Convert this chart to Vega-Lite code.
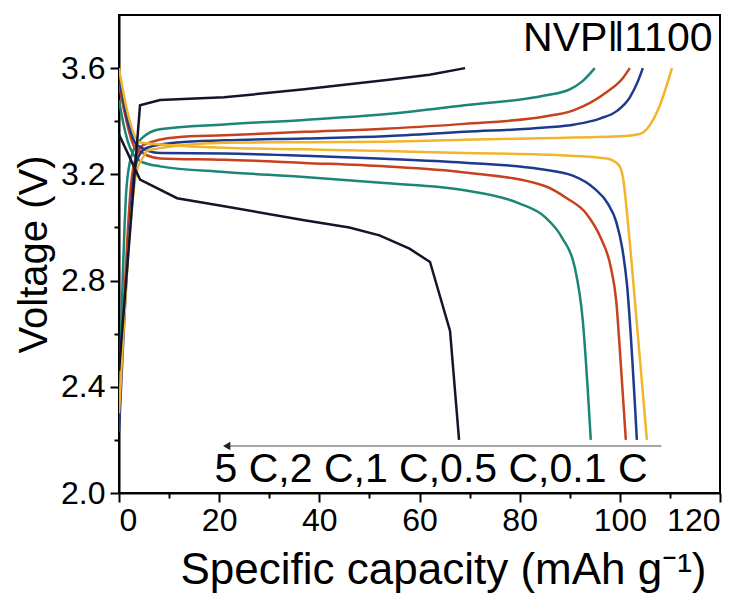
{
  "$schema": "https://vega.github.io/schema/vega-lite/v6.json",
  "width": 601,
  "height": 478,
  "autosize": {"type": "none"},
  "padding": {"left": 119, "top": 15, "right": 27, "bottom": 117},
  "background": "white",
  "config": {
    "view": {"stroke": "black", "strokeWidth": 2},
    "font": "Liberation Sans",
    "axis": {
      "domainColor": "black", "domainWidth": 2, "tickColor": "black", "tickWidth": 2,
      "labelFont": "Liberation Sans", "labelFontSize": 32, "labelColor": "black",
      "titleFont": "Liberation Sans", "titleFontSize": 40, "titleFontWeight": "normal", "titleColor": "black",
      "grid": false
    }
  },
  "datasets": {
    "curves": [
      {"r": "5 C", "k": "c", "x": 0, "v": 2.46}, {"r": "5 C", "k": "c", "x": 4.2, "v": 3.46}, {"r": "5 C", "k": "c", "x": 8.2, "v": 3.48}, {"r": "5 C", "k": "c", "x": 21, "v": 3.49}, {"r": "5 C", "k": "c", "x": 37, "v": 3.52}, {"r": "5 C", "k": "c", "x": 53, "v": 3.554}, {"r": "5 C", "k": "c", "x": 62, "v": 3.575}, {"r": "5 C", "k": "c", "x": 69.1, "v": 3.6},
      {"r": "5 C", "k": "d", "x": 0, "v": 3.35}, {"r": "5 C", "k": "d", "x": 4.2, "v": 3.18}, {"r": "5 C", "k": "d", "x": 11.6, "v": 3.11}, {"r": "5 C", "k": "d", "x": 21, "v": 3.08}, {"r": "5 C", "k": "d", "x": 37, "v": 3.027}, {"r": "5 C", "k": "d", "x": 46, "v": 3.0}, {"r": "5 C", "k": "d", "x": 52, "v": 2.97}, {"r": "5 C", "k": "d", "x": 58, "v": 2.92}, {"r": "5 C", "k": "d", "x": 62.1, "v": 2.87}, {"r": "5 C", "k": "d", "x": 66.1, "v": 2.61}, {"r": "5 C", "k": "d", "x": 67.9, "v": 2.2},

      {"r": "2 C", "k": "c", "x": 0, "v": 2.31}, {"r": "2 C", "k": "c", "x": 1.5, "v": 3.15}, {"r": "2 C", "k": "c", "x": 2.5, "v": 3.27}, {"r": "2 C", "k": "c", "x": 4.8, "v": 3.34}, {"r": "2 C", "k": "c", "x": 8.2, "v": 3.37}, {"r": "2 C", "k": "c", "x": 21, "v": 3.388}, {"r": "2 C", "k": "c", "x": 37, "v": 3.405}, {"r": "2 C", "k": "c", "x": 53, "v": 3.426}, {"r": "2 C", "k": "c", "x": 69, "v": 3.46}, {"r": "2 C", "k": "c", "x": 85, "v": 3.497}, {"r": "2 C", "k": "c", "x": 90, "v": 3.52}, {"r": "2 C", "k": "c", "x": 92.5, "v": 3.55}, {"r": "2 C", "k": "c", "x": 95, "v": 3.6},
      {"r": "2 C", "k": "d", "x": 0, "v": 3.48}, {"r": "2 C", "k": "d", "x": 1, "v": 3.38}, {"r": "2 C", "k": "d", "x": 2, "v": 3.31}, {"r": "2 C", "k": "d", "x": 4.2, "v": 3.25}, {"r": "2 C", "k": "d", "x": 8.2, "v": 3.23}, {"r": "2 C", "k": "d", "x": 21, "v": 3.209}, {"r": "2 C", "k": "d", "x": 37, "v": 3.19}, {"r": "2 C", "k": "d", "x": 53, "v": 3.167}, {"r": "2 C", "k": "d", "x": 69, "v": 3.14}, {"r": "2 C", "k": "d", "x": 80, "v": 3.09}, {"r": "2 C", "k": "d", "x": 85, "v": 3.04}, {"r": "2 C", "k": "d", "x": 88.5, "v": 2.96}, {"r": "2 C", "k": "d", "x": 91, "v": 2.85}, {"r": "2 C", "k": "d", "x": 92.6, "v": 2.65}, {"r": "2 C", "k": "d", "x": 94.2, "v": 2.2},

      {"r": "1 C", "k": "c", "x": 0, "v": 2.26}, {"r": "1 C", "k": "c", "x": 2.5, "v": 3.18}, {"r": "1 C", "k": "c", "x": 3.5, "v": 3.27}, {"r": "1 C", "k": "c", "x": 4.8, "v": 3.31}, {"r": "1 C", "k": "c", "x": 11.6, "v": 3.34}, {"r": "1 C", "k": "c", "x": 21, "v": 3.347}, {"r": "1 C", "k": "c", "x": 37, "v": 3.36}, {"r": "1 C", "k": "c", "x": 53, "v": 3.372}, {"r": "1 C", "k": "c", "x": 69, "v": 3.39}, {"r": "1 C", "k": "c", "x": 85, "v": 3.418}, {"r": "1 C", "k": "c", "x": 90.6, "v": 3.44}, {"r": "1 C", "k": "c", "x": 97.4, "v": 3.51}, {"r": "1 C", "k": "c", "x": 100.5, "v": 3.56}, {"r": "1 C", "k": "c", "x": 102, "v": 3.6},
      {"r": "1 C", "k": "d", "x": 0, "v": 3.54}, {"r": "1 C", "k": "d", "x": 1.5, "v": 3.4}, {"r": "1 C", "k": "d", "x": 3.2, "v": 3.3}, {"r": "1 C", "k": "d", "x": 8.2, "v": 3.26}, {"r": "1 C", "k": "d", "x": 21, "v": 3.255}, {"r": "1 C", "k": "d", "x": 37, "v": 3.243}, {"r": "1 C", "k": "d", "x": 53, "v": 3.23}, {"r": "1 C", "k": "d", "x": 69, "v": 3.207}, {"r": "1 C", "k": "d", "x": 85, "v": 3.156}, {"r": "1 C", "k": "d", "x": 89.4, "v": 3.11}, {"r": "1 C", "k": "d", "x": 93.4, "v": 3.05}, {"r": "1 C", "k": "d", "x": 96.2, "v": 2.96}, {"r": "1 C", "k": "d", "x": 98.2, "v": 2.85}, {"r": "1 C", "k": "d", "x": 99.3, "v": 2.72}, {"r": "1 C", "k": "d", "x": 100, "v": 2.54}, {"r": "1 C", "k": "d", "x": 101.2, "v": 2.2},

      {"r": "0.5 C", "k": "c", "x": 0, "v": 2.23}, {"r": "0.5 C", "k": "c", "x": 3, "v": 3.2}, {"r": "0.5 C", "k": "c", "x": 4, "v": 3.27}, {"r": "0.5 C", "k": "c", "x": 5.6, "v": 3.3}, {"r": "0.5 C", "k": "c", "x": 11.6, "v": 3.32}, {"r": "0.5 C", "k": "c", "x": 21, "v": 3.328}, {"r": "0.5 C", "k": "c", "x": 37, "v": 3.335}, {"r": "0.5 C", "k": "c", "x": 53, "v": 3.343}, {"r": "0.5 C", "k": "c", "x": 69, "v": 3.36}, {"r": "0.5 C", "k": "c", "x": 85, "v": 3.376}, {"r": "0.5 C", "k": "c", "x": 91, "v": 3.388}, {"r": "0.5 C", "k": "c", "x": 96, "v": 3.41}, {"r": "0.5 C", "k": "c", "x": 99.5, "v": 3.44}, {"r": "0.5 C", "k": "c", "x": 102, "v": 3.49}, {"r": "0.5 C", "k": "c", "x": 103.6, "v": 3.55}, {"r": "0.5 C", "k": "c", "x": 104.6, "v": 3.6},
      {"r": "0.5 C", "k": "d", "x": 0, "v": 3.57}, {"r": "0.5 C", "k": "d", "x": 1.5, "v": 3.42}, {"r": "0.5 C", "k": "d", "x": 3.6, "v": 3.31}, {"r": "0.5 C", "k": "d", "x": 8.2, "v": 3.28}, {"r": "0.5 C", "k": "d", "x": 21, "v": 3.278}, {"r": "0.5 C", "k": "d", "x": 37, "v": 3.27}, {"r": "0.5 C", "k": "d", "x": 53, "v": 3.259}, {"r": "0.5 C", "k": "d", "x": 69, "v": 3.244}, {"r": "0.5 C", "k": "d", "x": 84, "v": 3.22}, {"r": "0.5 C", "k": "d", "x": 90.6, "v": 3.195}, {"r": "0.5 C", "k": "d", "x": 95, "v": 3.145}, {"r": "0.5 C", "k": "d", "x": 97.6, "v": 3.09}, {"r": "0.5 C", "k": "d", "x": 99.3, "v": 3.02}, {"r": "0.5 C", "k": "d", "x": 100.5, "v": 2.92}, {"r": "0.5 C", "k": "d", "x": 101.4, "v": 2.79}, {"r": "0.5 C", "k": "d", "x": 103.4, "v": 2.2},

      {"r": "0.1 C", "k": "c", "x": 0, "v": 2.3}, {"r": "0.1 C", "k": "c", "x": 3.5, "v": 3.21}, {"r": "0.1 C", "k": "c", "x": 5, "v": 3.27}, {"r": "0.1 C", "k": "c", "x": 5.6, "v": 3.29}, {"r": "0.1 C", "k": "c", "x": 21, "v": 3.319}, {"r": "0.1 C", "k": "c", "x": 37, "v": 3.321}, {"r": "0.1 C", "k": "c", "x": 53, "v": 3.323}, {"r": "0.1 C", "k": "c", "x": 69, "v": 3.33}, {"r": "0.1 C", "k": "c", "x": 84, "v": 3.336}, {"r": "0.1 C", "k": "c", "x": 100, "v": 3.343}, {"r": "0.1 C", "k": "c", "x": 104, "v": 3.352}, {"r": "0.1 C", "k": "c", "x": 105.8, "v": 3.38}, {"r": "0.1 C", "k": "c", "x": 108, "v": 3.46}, {"r": "0.1 C", "k": "c", "x": 110.4, "v": 3.6},
      {"r": "0.1 C", "k": "d", "x": 0, "v": 3.6}, {"r": "0.1 C", "k": "d", "x": 1.5, "v": 3.45}, {"r": "0.1 C", "k": "d", "x": 4.2, "v": 3.32}, {"r": "0.1 C", "k": "d", "x": 21, "v": 3.3}, {"r": "0.1 C", "k": "d", "x": 37, "v": 3.294}, {"r": "0.1 C", "k": "d", "x": 53, "v": 3.288}, {"r": "0.1 C", "k": "d", "x": 69, "v": 3.28}, {"r": "0.1 C", "k": "d", "x": 84, "v": 3.275}, {"r": "0.1 C", "k": "d", "x": 97.4, "v": 3.26}, {"r": "0.1 C", "k": "d", "x": 99.8, "v": 3.235}, {"r": "0.1 C", "k": "d", "x": 100.7, "v": 3.18}, {"r": "0.1 C", "k": "d", "x": 101.3, "v": 3.08}, {"r": "0.1 C", "k": "d", "x": 102.2, "v": 2.9}, {"r": "0.1 C", "k": "d", "x": 105.4, "v": 2.2}
    ],
    "labels": [
      {"t": "NVP‖1100", "x": 118.5, "v": 3.71},
      {"t": "5 C,2 C,1 C,0.5 C,0.1 C", "x": 62.3, "v": 2.085}
    ],
    "arrow": [{"x": 21.5, "x2": 108.3, "v": 2.177}]
  },
  "layer": [
    {
      "data": {"name": "curves"},
      "transform": [{"filter": "datum.r !== '5 C'"}],
      "mark": {"type": "line", "interpolate": "monotone", "strokeWidth": 2.5, "clip": true},
      "encoding": {
        "x": {"field": "x", "type": "quantitative", "scale": {"domain": [0, 120], "nice": false},
          "axis": {"title": "Specific capacity (mAh g⁻¹)", "values": [0, 10, 20, 30, 40, 50, 60, 70, 80, 90, 100, 110, 120],
            "labelExpr": "datum.value % 20 == 0 ? datum.label : ''",
            "tickSize": {"condition": {"test": "datum.value % 20 == 0", "value": 9}, "value": 5},
            "labelPadding": 3, "titlePadding": 12, "titleFontSize": 44, "titleX": 324}},
        "y": {"field": "v", "type": "quantitative", "scale": {"domain": [2.0, 3.8], "nice": false, "zero": false},
          "axis": {"title": "Voltage (V)", "values": [2.0, 2.2, 2.4, 2.6, 2.8, 3.0, 3.2, 3.4, 3.6],
            "format": ".1f",
            "labelExpr": "round(datum.value * 10) % 4 == 0 ? datum.label : ''",
            "tickSize": {"condition": {"test": "round(datum.value * 10) % 4 == 0", "value": 9}, "value": 5},
            "labelPadding": 5, "titlePadding": 6}},
        "color": {"field": "r", "type": "nominal",
          "scale": {"domain": ["5 C", "2 C", "1 C", "0.5 C", "0.1 C"], "range": ["#14142B", "#1B8676", "#C7411C", "#1C3A8E", "#F2B42A"]},
          "legend": null},
        "detail": {"field": "k"}
      }
    },
    {
      "data": {"name": "curves"},
      "transform": [{"filter": "datum.r === '5 C'"}],
      "mark": {"type": "line", "interpolate": "linear", "strokeWidth": 2.5, "clip": true},
      "encoding": {
        "x": {"field": "x", "type": "quantitative"},
        "y": {"field": "v", "type": "quantitative"},
        "color": {"field": "r", "type": "nominal", "legend": null},
        "detail": {"field": "k"}
      }
    },
    {
      "data": {"name": "arrow"},
      "mark": {"type": "rule", "color": "#8a8a8a", "strokeWidth": 1.5},
      "encoding": {
        "x": {"field": "x", "type": "quantitative"},
        "x2": {"field": "x2"},
        "y": {"field": "v", "type": "quantitative"}
      }
    },
    {
      "data": {"name": "arrow"},
      "mark": {"type": "point", "shape": "triangle-left", "filled": true, "color": "#222222", "size": 70, "opacity": 1},
      "encoding": {
        "x": {"field": "x", "type": "quantitative"},
        "y": {"field": "v", "type": "quantitative"}
      }
    },
    {
      "data": {"name": "labels"},
      "transform": [{"filter": "datum.t === 'NVP‖1100'"}],
      "mark": {"type": "text", "align": "right", "baseline": "middle", "fontSize": 41, "font": "Liberation Sans", "color": "black"},
      "encoding": {
        "x": {"field": "x", "type": "quantitative"},
        "y": {"field": "v", "type": "quantitative"},
        "text": {"field": "t"}
      }
    },
    {
      "data": {"name": "labels"},
      "transform": [{"filter": "datum.t !== 'NVP‖1100'"}],
      "mark": {"type": "text", "align": "center", "baseline": "middle", "fontSize": 41, "font": "Liberation Sans", "color": "black"},
      "encoding": {
        "x": {"field": "x", "type": "quantitative"},
        "y": {"field": "v", "type": "quantitative"},
        "text": {"field": "t"}
      }
    }
  ]
}
